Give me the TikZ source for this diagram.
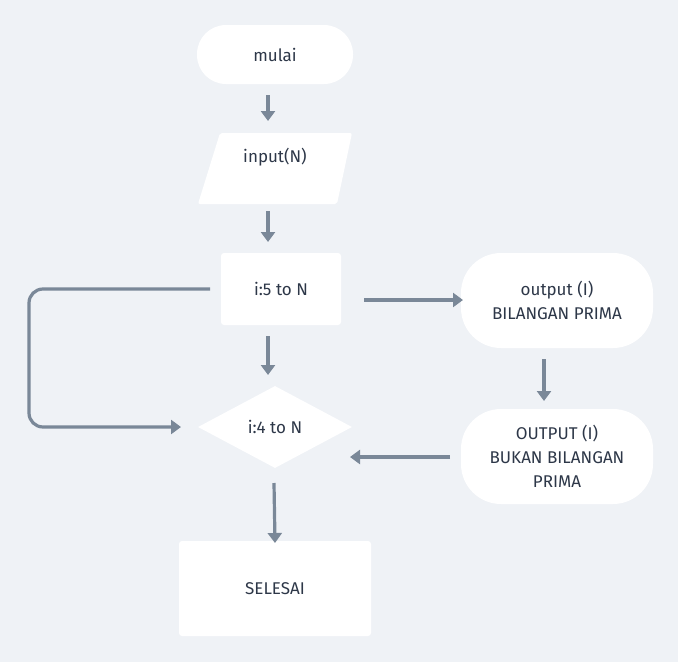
\documentclass[tikz,border=0pt]{standalone}
\usepackage{fontspec}
\setmainfont{Fira Sans}
\usetikzlibrary{arrows.meta,shapes.geometric}
\definecolor{bgc}{RGB}{239,242,246}
\definecolor{linec}{RGB}{122,136,152}
\definecolor{txtc}{RGB}{45,55,72}
\tikzset{
  box/.style={fill=white,draw=none,inner sep=0pt,text=txtc,align=center,font=\fontsize{17}{24}\selectfont},
  pill/.style={box,rounded corners=29pt},
  rectbox/.style={box,rounded corners=3pt},
  lbl/.style={text=txtc,inner sep=0pt,font=\fontsize{17}{24}\selectfont},
  conn/.style={draw=linec,line width=3.2pt,-{Triangle[width=14pt,length=10pt]}},
}
\begin{document}
\begin{tikzpicture}[x=1pt,y=1pt]
\fill[bgc] (0,0) rectangle (678,-662);
\useasboundingbox (0,0) rectangle (678,-662);

\node[pill,minimum width=156pt,minimum height=59pt] (mulai) at (275,-54.5) {mulai};
\fill[white,rounded corners=2pt] (220,-133) -- (352,-133) -- (337,-204) -- (198,-204) -- cycle;
\node[lbl] (input) at (275,-157) {input(N)};
\node[rectbox,minimum width=120pt,minimum height=72pt] (loop5) at (281,-289) {i:5 to N};
\node[box,diamond,aspect=1.88,minimum width=154pt,minimum height=82pt,inner sep=2pt] (loop4) at (275,-427) {};
\node[lbl] (loop4txt) at (275,-427) {i:4 to N};
\node[pill,rounded corners=40pt,minimum width=192pt,minimum height=95pt] (prima) at (557,-300.5) {output (I)\\BILANGAN PRIMA};
\node[pill,rounded corners=40pt,minimum width=192pt,minimum height=95pt] (bukan) at (557,-456.5) {OUTPUT (I)\\BUKAN BILANGAN\\PRIMA};
\node[rectbox,minimum width=192pt,minimum height=95pt] (selesai) at (275,-588.5) {SELESAI};

\coordinate (c1) at (268,-95);
\coordinate (c2) at (268,-121);
\draw[conn] (c1) -- (c2);
\coordinate (c3) at (268,-211);
\coordinate (c4) at (268,-242);
\draw[conn] (c3) -- (c4);
\coordinate (c5) at (268,-336);
\coordinate (c6) at (268,-375);
\draw[conn] (c5) -- (c6);
\coordinate (c7) at (210,-289);
\coordinate (c8) at (181,-427);
\draw[conn,rounded corners=14pt] (c7) -- (29,-289) -- (29,-427) -- (c8);
\coordinate (c9) at (364,-300);
\coordinate (c10) at (463,-300);
\draw[conn] (c9) -- (c10);
\coordinate (c11) at (544,-359);
\coordinate (c12) at (544,-401);
\draw[conn] (c11) -- (c12);
\coordinate (c13) at (450,-457);
\coordinate (c14) at (350,-457);
\draw[conn] (c13) -- (c14);
\coordinate (c15) at (274,-483);
\coordinate (c16) at (275,-543);
\draw[conn] (c15) -- (c16);
\end{tikzpicture}
\end{document}
